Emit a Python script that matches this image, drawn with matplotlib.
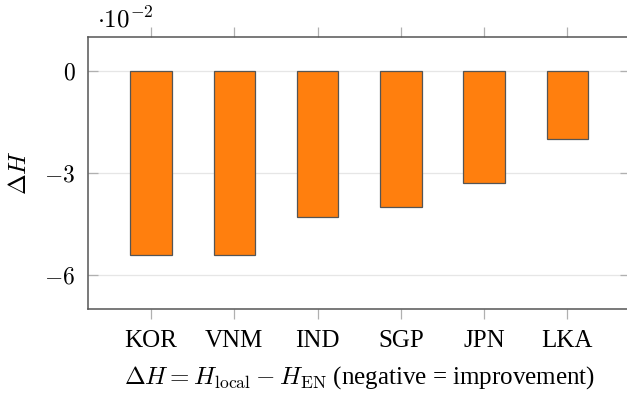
import matplotlib
matplotlib.use("Agg")
import matplotlib.pyplot as plt
import numpy as np

# data
countries = ["KOR", "VNM", "IND", "SGP", "JPN", "LKA"]
delta_h = [-0.054, -0.054, -0.043, -0.040, -0.033, -0.020]
yticks = [0, -3, -6]

plt.rcParams["font.family"] = ["Liberation Serif", "DejaVu Serif"]
plt.rcParams["mathtext.fontset"] = "cm"

fig = plt.figure(figsize=(6.27, 3.95), dpi=100)
ax = fig.add_axes([0.1404, 0.2177, 0.865, 0.6886])

x = np.arange(len(countries))
vals = np.array(delta_h) * 100
ax.bar(x, vals, width=0.5, color="#ff7f0e", edgecolor="#555555", linewidth=0.9, zorder=3)

ax.set_xlim(-0.757, 5.757)
ax.set_ylim(-7, 1)
ax.set_xticks(x)
ax.set_xticklabels(countries, fontsize=18)
ax.set_yticks(yticks)
ax.set_yticklabels([f"${v}$" if v == 0 else f"$-{abs(v)}$" for v in yticks], fontsize=17)

ax.yaxis.grid(True, color="#e6e6e6", linewidth=0.9, zorder=0)
ax.xaxis.grid(False)

ax.tick_params(axis="x", direction="out", length=7, color="#b0b0b0", width=0.9,
               top=True, labeltop=False, pad=8)
ax.tick_params(axis="y", direction="in", length=7, color="#b0b0b0", width=0.9,
               right=True, pad=9)

for s in ax.spines.values():
    s.set_color("#555555")
    s.set_linewidth(1.1)

ax.set_ylabel(r"$\Delta H$", fontsize=18, labelpad=10)
ax.set_xlabel(r"$\Delta H = H_{\mathrm{local}} - H_{\mathrm{EN}}$ (negative = improvement)",
              fontsize=18, labelpad=9)

fig.text(0.155, 0.95, r"$\cdot 10^{-2}$", fontsize=18, ha="left", va="center")

fig.savefig("out.png", dpi=100)
